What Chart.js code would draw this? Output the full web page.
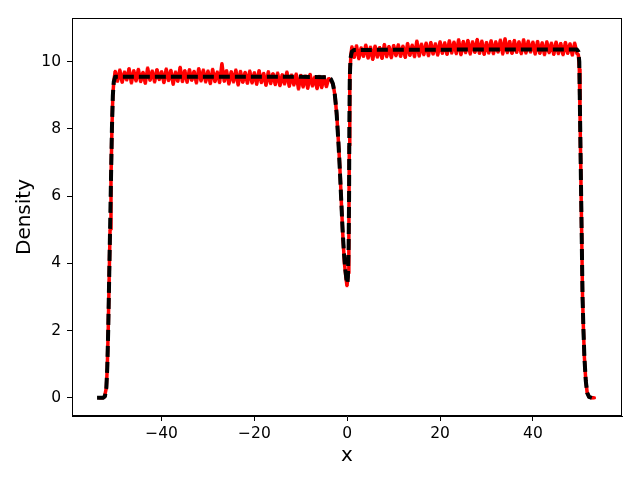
<!DOCTYPE html>
<html>
<head>
<meta charset="utf-8">
<script src="https://cdn.jsdelivr.net/npm/chart.js@4/dist/chart.umd.min.js"></script>
<style>
  body { margin: 0; background: #fff; }
  canvas { display: block; }
</style>
</head>
<body>
<canvas id="chart" width="640" height="480"></canvas>
<script>
// tick labels
const xTicks = [-40, -20, 0, 20, 40];
const yTicks = [0, 2, 4, 6, 8, 10];

// fitted profile (black dashed)
const fitX = [-53.9, -52.6, -52.2, -51.9, -51.7, -51.5, -51.3, -51.1, -50.9, -50.7, -50.5, -50.3, -50.0,
    -30.0, -10.0, -4.0, -3.5, -3.1, -2.7, -2.3, -1.9, -1.6, -1.3, -1.0, -0.7, -0.4, -0.1, 0.05,
    0.15, 0.3, 0.4, 0.45, 0.55, 0.7, 1.0, 1.5, 25.0, 49.5, 49.8, 50.0, 50.1, 50.3, 50.5, 50.7,
    50.9, 51.1, 51.4, 51.7, 52.1, 52.7];
const fitY = [0.0, 0.0, 0.05, 0.3, 0.9, 2.0, 3.5, 5.0, 6.5, 8.0, 9.0, 9.4, 9.55,
    9.55, 9.55, 9.54, 9.48, 9.35, 9.05, 8.5, 7.6, 6.8, 5.9, 5.0, 4.3, 3.8, 3.45, 3.4,
    3.6, 4.5, 6.0, 8.0, 9.5, 10.1, 10.3, 10.35, 10.36, 10.36, 10.3, 10.0, 9.0, 7.0, 5.0, 3.0,
    2.0, 1.2, 0.5, 0.15, 0.03, 0.0];

// measured density (red), edges
const leftEdgeX = [-53.5, -52.8, -52.3, -51.9, -51.7, -51.5, -51.3, -51.1, -50.9, -50.7, -50.5, -50.3];
const leftEdgeY = [0.0, 0.0, 0.03, 0.3, 0.9, 2.0, 3.5, 5.0, 6.5, 8.0, 9.0, 9.4];
const dipX = [-3.5, -3.0, -2.6, -2.2, -1.8, -1.5, -1.2, -0.9, -0.6, -0.3, -0.05, 0.2, 0.35, 0.45, 0.55, 0.8];
const dipY = [9.45, 9.3, 8.95, 8.3, 7.4, 6.6, 5.6, 4.7, 4.0, 3.6, 3.33, 3.7, 5.0, 7.5, 9.6, 10.2];
const rightEdgeX = [49.8, 50.0, 50.15, 50.3, 50.5, 50.7, 50.9, 51.1, 51.4, 51.7, 52.1, 52.7, 53.3];
const rightEdgeY = [10.2, 9.8, 8.5, 7.0, 5.0, 3.0, 2.0, 1.2, 0.5, 0.15, 0.03, 0.0, 0.0];

// measured density (red), plateaus sampled every 0.5
const leftStart = -50.0;
const leftPlateau = [
    9.72, 9.41, 9.76, 9.38, 9.70, 9.45, 9.80, 9.36, 9.74, 9.42,
    9.78, 9.40, 9.69, 9.35, 9.82, 9.44, 9.73, 9.39, 9.77, 9.46,
    9.71, 9.37, 9.79, 9.43, 9.75, 9.32, 9.70, 9.41, 9.84, 9.40,
    9.74, 9.38, 9.77, 9.44, 9.72, 9.36, 9.80, 9.42, 9.76, 9.39,
    9.73, 9.34, 9.78, 9.40, 9.70, 9.37, 9.95, 9.41, 9.74, 9.33,
    9.71, 9.39, 9.76, 9.30, 9.72, 9.38, 9.69, 9.35, 9.73, 9.36,
    9.68, 9.32, 9.74, 9.37, 9.66, 9.29, 9.71, 9.34, 9.65, 9.31,
    9.67, 9.28, 9.62, 9.33, 9.70, 9.26, 9.61, 9.30, 9.64, 9.18,
    9.60, 9.24, 9.58, 9.20, 9.63, 9.27, 9.55, 9.19, 9.57, 9.22,
    9.56, 9.25, 9.50];
const rightStart = 1.0;
const rightPlateau = [
    10.45, 10.12, 10.48, 10.08, 10.42, 10.15, 10.50, 10.10, 10.44, 10.06,
    10.47, 10.13, 10.43, 10.09, 10.52, 10.14, 10.46, 10.11, 10.49, 10.17,
    10.51, 10.15, 10.47, 10.12, 10.55, 10.18, 10.50, 10.14, 10.62, 10.16,
    10.53, 10.20, 10.56, 10.17, 10.58, 10.22, 10.54, 10.19, 10.60, 10.24,
    10.57, 10.21, 10.63, 10.25, 10.59, 10.23, 10.66, 10.20, 10.61, 10.26,
    10.64, 10.22, 10.60, 10.27, 10.67, 10.24, 10.62, 10.21, 10.58, 10.25,
    10.63, 10.23, 10.60, 10.28, 10.65, 10.22, 10.69, 10.26, 10.61, 10.24,
    10.64, 10.27, 10.60, 10.23, 10.66, 10.25, 10.62, 10.28, 10.59, 10.22,
    10.61, 10.24, 10.57, 10.20, 10.60, 10.26, 10.56, 10.21, 10.59, 10.23,
    10.55, 10.20, 10.58, 10.24, 10.54, 10.19, 10.56, 10.25];

function pairs(xs, ys) {
    return xs.map((x, i) => ({ x: x, y: ys[i] }));
}
function sampled(start, ys) {
    return ys.map((y, i) => ({ x: start + i * 0.5, y: y }));
}

const redPoints = [].concat(
    pairs(leftEdgeX, leftEdgeY),
    sampled(leftStart, leftPlateau),
    pairs(dipX, dipY),
    sampled(rightStart, rightPlateau),
    pairs(rightEdgeX, rightEdgeY)
);

// caja completa como en matplotlib
const frame = {
    id: 'frame',
    afterDatasetsDraw(chart) {
        const a = chart.chartArea;
        const ctx = chart.ctx;
        ctx.save();
        ctx.strokeStyle = '#000';
        ctx.lineWidth = 1;
        ctx.strokeRect(a.left + 0.5, a.top + 0.5, a.right - a.left - 1, a.bottom - a.top - 1);
        ctx.restore();
    }
};

const tickFont = { family: 'DejaVu Sans', size: 15.5 };
const titleFont = { family: 'DejaVu Sans', size: 20 };

new Chart(document.getElementById('chart'), {
    type: 'scatter',
    data: {
        datasets: [
            {
                data: pairs(fitX, fitY),
                showLine: true,
                borderColor: '#000',
                borderWidth: 4,
                borderDash: [11, 5],
                borderJoinStyle: 'round',
                pointRadius: 0,
                order: 0
            },
            {
                data: redPoints,
                showLine: true,
                borderColor: '#ff0000',
                borderWidth: 3.5,
                borderJoinStyle: 'bevel',
                backgroundColor: '#ff0000',
                pointStyle: 'rect',
                pointRadius: 1.8,
                pointBorderWidth: 0,
                order: 1
            }
        ]
    },
    options: {
        responsive: false,
        animation: false,
        devicePixelRatio: 1,
        layout: { padding: { top: 18, right: 18, left: 0, bottom: 0 } },
        plugins: { legend: { display: false }, tooltip: { enabled: false } },
        scales: {
            x: {
                type: 'linear',
                min: -59.3,
                max: 59.2,
                afterBuildTicks: (s) => { s.ticks = xTicks.map(v => ({ value: v })); },
                afterFit: (s) => { s.height = 64; },
                grid: { drawOnChartArea: false, tickLength: 5, color: '#000' },
                border: { color: '#000', width: 1 },
                ticks: {
                    font: tickFont,
                    color: '#000',
                    padding: 4,
                    maxRotation: 0,
                    callback: (v) => String(v).replace('-', '\u2212')
                },
                title: { display: true, text: 'x', font: titleFont, color: '#000', padding: { top: 0, bottom: 12 } }
            },
            y: {
                min: -0.54,
                max: 11.3,
                afterBuildTicks: (s) => { s.ticks = yTicks.map(v => ({ value: v })); },
                afterFit: (s) => { s.width = 72; },
                grid: { drawOnChartArea: false, tickLength: 5, color: '#000' },
                border: { color: '#000', width: 1 },
                ticks: { font: tickFont, color: '#000', padding: 6 },
                title: { display: true, text: 'Density', font: titleFont, color: '#000', padding: { top: 13, bottom: 0 } }
            }
        }
    },
    plugins: [frame]
});
</script>
</body>
</html>
